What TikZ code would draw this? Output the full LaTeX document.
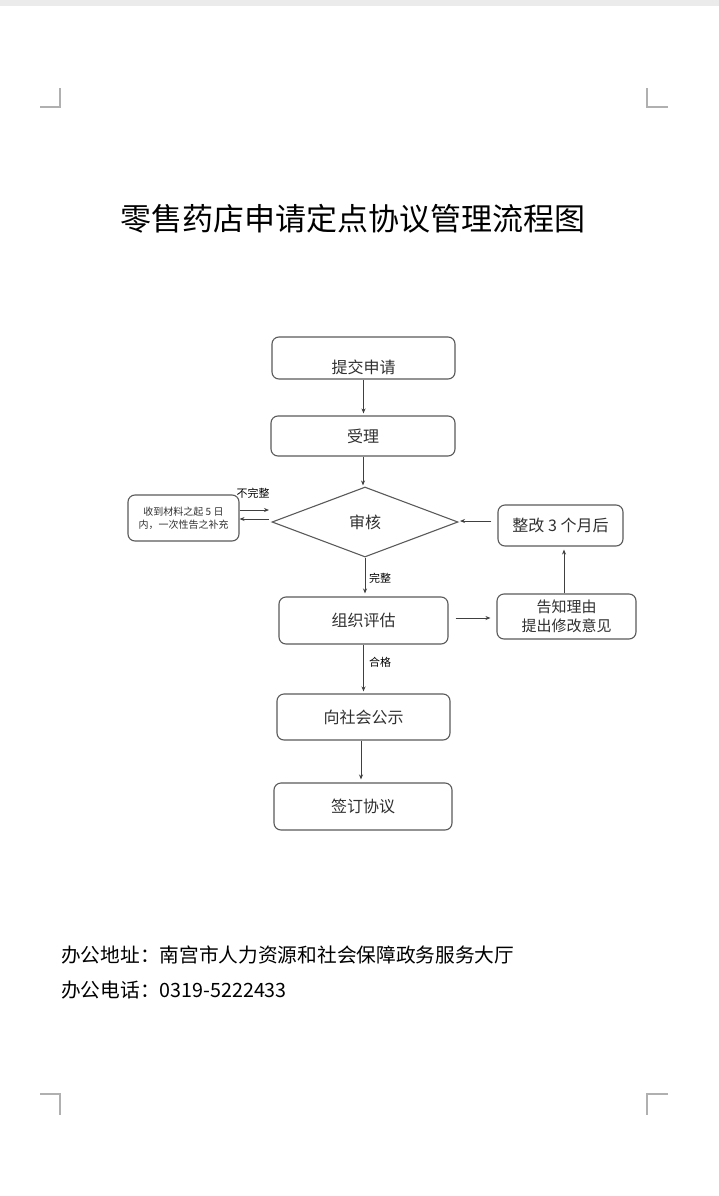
\documentclass[tikz,border=0pt]{standalone}
\usepackage{fontspec}
\setmainfont{Noto Sans CJK SC}
\usetikzlibrary{shapes.geometric,arrows.meta}
\definecolor{boxc}{HTML}{5A5A5A}
\definecolor{arrc}{HTML}{404040}
\definecolor{txt}{HTML}{303030}
\definecolor{topbar}{HTML}{EBEBEB}
\definecolor{markc}{HTML}{B0B0B0}
\begin{document}
\begin{tikzpicture}[x=1pt,y=-1pt,
 box/.style={draw=boxc, line width=1.1pt, rounded corners=7pt, inner sep=0pt, align=center, text=txt, font=\fontsize{16}{18}\selectfont},
 arr/.style={draw=arrc, line width=0.9pt, -{Stealth[length=5pt,width=4pt]}},
 lbl/.style={font=\fontsize{11}{12}\selectfont, text=black, inner sep=0pt},
 cornermark/.style={draw=markc, line width=1.2pt},
]
\useasboundingbox (0,0) rectangle (719,1196);
\fill[white] (0,0) rectangle (719,1196);
\fill[topbar] (0,0) rectangle (719,6);
% corner marks
\draw[cornermark] (40,107) -- (60,107) -- (60,88);
\draw[cornermark] (668,107) -- (647,107) -- (647,88);
\draw[cornermark] (40,1094) -- (60,1094) -- (60,1115);
\draw[cornermark] (668,1094) -- (647,1094) -- (647,1115);
% title
\node[font=\fontsize{31}{36}\selectfont, text=black] (title) at (353,219) {零售药店申请定点协议管理流程图};
% boxes
\node[box, minimum width=183pt, minimum height=42pt] (a) at (363.5,358) {};
\node[text=txt, font=\fontsize{16}{18}\selectfont, inner sep=0pt] (at) at ([yshift=-9pt]a.center) {提交申请};
\node[box, minimum width=184pt, minimum height=40pt] (b) at (363,436) {受理};
\node[draw=boxc, line width=1.1pt, diamond, inner sep=0pt, minimum width=186pt, minimum height=70pt, text=txt, font=\fontsize{16}{18}\selectfont] (d) at (365,522) {审核};
\node[box, minimum width=111pt, minimum height=46pt, font=\fontsize{10}{13}\selectfont] (l) at (183.5,518) {收到材料之起 5 日\\内，一次性告之补充};
\node[box, minimum width=125pt, minimum height=41pt] (r) at (560.5,525.5) {整改 3 个月后};
\node[box, minimum width=169pt, minimum height=47pt] (e) at (363.5,620.5) {组织评估};
\node[box, minimum width=139pt, minimum height=45pt, font=\fontsize{15}{19}\selectfont] (n) at (566.5,616.5) {告知理由\\提出修改意见};
\node[box, minimum width=173pt, minimum height=46pt] (p) at (363.5,717) {向社会公示};
\node[box, minimum width=178pt, minimum height=47pt] (s) at (363,806.5) {签订协议};
% connectors
\draw[arr, shorten >=2pt] (a.south) -- (a.south |- b.north);
\draw[arr, shorten >=1pt] (b.south) -- (b.south |- d.north);
\coordinate (dl1) at (269,510);
\coordinate (dl2) at (269,519);
\draw[arr] (l.east |- dl1) -- (dl1);
\draw[arr] (dl2) -- (l.east |- dl2);
\node[lbl] (lb1) at (253,493) {不完整};
\coordinate (dr) at (460,521);
\draw[arr, shorten <=6pt] (r.west |- dr) -- (dr);
\draw[arr, shorten >=3pt] (d.south) -- (d.south |- e.north);
\node[lbl] (lb2) at (380,578) {完整};
\draw[arr, shorten <=7pt, shorten >=6pt] (e.east |- 0,618) -- (n.west |- 0,618);
\draw[arr, shorten >=3pt] (n.north -| 564,0) -- (r.south -| 564,0);
\draw[arr, shorten >=2pt] (e.south) -- (e.south |- p.north);
\node[lbl] (lb3) at (380,662) {合格};
\draw[arr, shorten >=3pt] (p.south -| 361,0) -- (s.north -| 361,0);
% footer
\node[anchor=west, font=\fontsize{19.7}{24}\selectfont, text=black, inner sep=0pt] (f1) at (61,955) {办公地址：南宫市人力资源和社会保障政务服务大厅};
\node[anchor=west, font=\fontsize{19.7}{24}\selectfont, text=black, inner sep=0pt] (f2) at (61,990) {办公电话：0319-5222433};
\end{tikzpicture}
\end{document}
